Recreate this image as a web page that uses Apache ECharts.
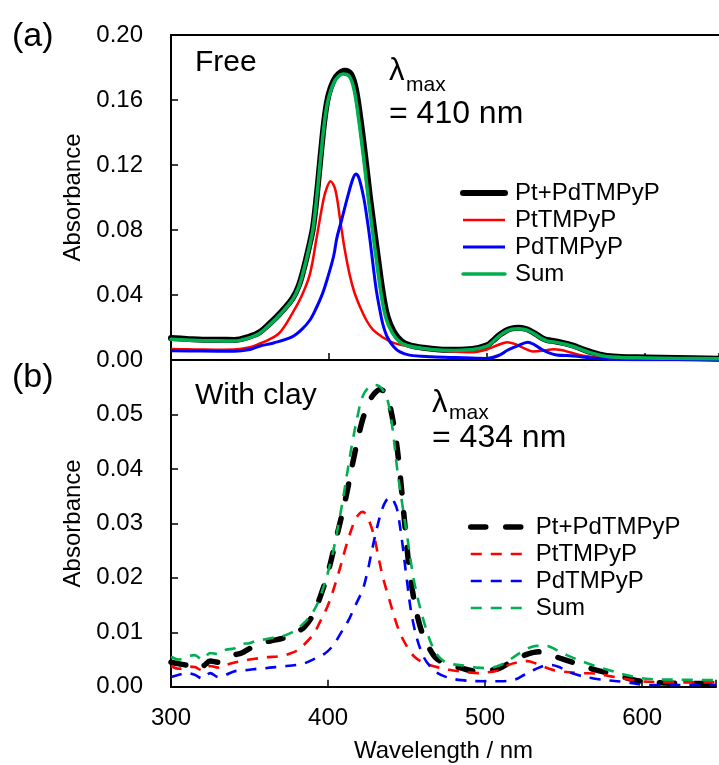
<!DOCTYPE html>
<html>
<head>
<meta charset="utf-8">
<script src="https://cdn.jsdelivr.net/npm/echarts@6/dist/echarts.min.js"></script>
<style>
html,body{margin:0;padding:0;background:#fff;}
#c{width:719px;height:765px;}
</style>
</head>
<body>
<div id="c"></div>
<script>
// ---------- Data: panel (a) Free ----------
const seriesNames = ['Pt+PdTMPyP', 'PtTMPyP', 'PdTMPyP', 'Sum'];
const xTickLabels = [300, 400, 500, 600];

const freeMixWl  = [300,310,320,330,340,350,356,362,369,377,381,384,387,390,393,396,398,400,403,406,410,414,417,420,423,426,428,431,434,437,441,446,451,460,470,480,491,500,504,508,512,516,520,524,527,531,535,538,543,548,553,557,561,566,571,576,585,601,620,647];
const freeMixAbs = [0.0135,0.0130,0.0125,0.0125,0.0123,0.0145,0.0170,0.0220,0.0287,0.0380,0.0460,0.0560,0.0680,0.0820,0.1080,0.1380,0.1540,0.1640,0.1720,0.1760,0.1780,0.1760,0.1670,0.1480,0.1250,0.1000,0.0850,0.0630,0.0420,0.0270,0.0175,0.0115,0.0092,0.0075,0.0065,0.0063,0.0068,0.0090,0.0120,0.0154,0.0180,0.0195,0.0198,0.0193,0.0182,0.0160,0.0135,0.0123,0.0115,0.0105,0.0093,0.0080,0.0065,0.0048,0.0035,0.0025,0.0019,0.0016,0.0012,0.0008];

const freeSumWl  = [300,310,320,330,340,350,356,362,369,377,381,384,387,390,393,396,398,400,403,406,409,413,416,419,422,425,427,430,433,436,440,445,450,460,470,480,491,500,504,508,512,516,520,524,527,531,535,538,543,548,553,557,561,566,571,576,585,601,620,647];
const freeSumAbs = [0.0128,0.0123,0.0118,0.0118,0.0117,0.0138,0.0163,0.0213,0.0280,0.0372,0.0452,0.0552,0.0672,0.0812,0.1070,0.1365,0.1525,0.1620,0.1705,0.1745,0.1760,0.1745,0.1660,0.1470,0.1240,0.0990,0.0840,0.0620,0.0410,0.0262,0.0168,0.0110,0.0088,0.0071,0.0061,0.0059,0.0064,0.0085,0.0115,0.0149,0.0175,0.0190,0.0193,0.0188,0.0177,0.0155,0.0130,0.0118,0.0110,0.0100,0.0088,0.0075,0.0060,0.0044,0.0031,0.0021,0.0016,0.0013,0.0010,0.0007];

const freePtWl  = [300,310,320,330,340,350,356,362,369,377,383,388,392,396,398,401,404,407,410,413,416,420,424,428,434,441,450,462,475,490,500,507,513,518,523,529,536,542,547,553,561,576,600,647];
const freePtAbs = [0.0068,0.0066,0.0064,0.0063,0.0064,0.0078,0.0100,0.0125,0.0170,0.0290,0.0400,0.0530,0.0740,0.0960,0.1040,0.1100,0.1050,0.0870,0.0680,0.0530,0.0420,0.0320,0.0240,0.0185,0.0140,0.0105,0.0085,0.0068,0.0055,0.0047,0.0065,0.0092,0.0110,0.0098,0.0075,0.0053,0.0058,0.0066,0.0061,0.0046,0.0026,0.0012,0.0009,0.0008];

const freePdWl  = [300,320,340,350,356,365,377,383,388,392,396,399,403,405,408,412,415,417,419,422,424,426,428,430,432,434,437,441,445,451,465,480,500,508,513,519,526,530,534,539,544,555,565,576,600,647];
const freePdAbs = [0.0057,0.0055,0.0054,0.0065,0.0085,0.0105,0.0144,0.0190,0.0246,0.0320,0.0410,0.0500,0.0640,0.0750,0.0860,0.1010,0.1110,0.1145,0.1120,0.1000,0.0880,0.0740,0.0580,0.0430,0.0320,0.0226,0.0140,0.0082,0.0050,0.0030,0.0020,0.0015,0.0010,0.0030,0.0060,0.0085,0.0110,0.0095,0.0070,0.0045,0.0031,0.0025,0.0014,0.0005,0.0002,0.0002];

// ---------- Data: panel (b) With clay ----------
const clayMixWl  = [300,305,310,315,320,325,330,335,340,345,350,355,360,365,370,375,380,385,390,395,400,405,411,417,421,424,427,430,433,436,439,443,446,449,452,456,460,464,469,477,485,493,500,505,510,515,519,523,527,531,535,540,550,561,569,580,588,597,614,630,647];
const clayMixAbs = [0.0045,0.0042,0.0040,0.0045,0.0038,0.0047,0.0045,0.0052,0.0058,0.0062,0.0070,0.0077,0.0082,0.0085,0.0088,0.0092,0.0100,0.0110,0.0130,0.0165,0.0210,0.0270,0.0343,0.0429,0.0480,0.0508,0.0528,0.0540,0.0546,0.0541,0.0520,0.0459,0.0386,0.0294,0.0210,0.0141,0.0098,0.0073,0.0052,0.0040,0.0034,0.0029,0.0029,0.0031,0.0035,0.0043,0.0049,0.0055,0.0060,0.0063,0.0064,0.0060,0.0050,0.0040,0.0032,0.0024,0.0018,0.0011,0.0007,0.0006,0.0006];

const claySumWl  = [300,305,310,315,320,325,330,335,340,345,350,355,360,365,370,375,380,385,390,395,402,408,415,419,422,426,430,434,438,441,444,447,451,455,462,468,474,480,489,495,502,508,514,520,527,533,539,545,552,565,578,592,605,620,647];
const claySumAbs = [0.0055,0.0050,0.0055,0.0058,0.0050,0.0062,0.0060,0.0068,0.0070,0.0078,0.0080,0.0085,0.0087,0.0090,0.0092,0.0097,0.0105,0.0118,0.0135,0.0165,0.0233,0.0320,0.0441,0.0500,0.0533,0.0550,0.0554,0.0548,0.0525,0.0475,0.0400,0.0340,0.0264,0.0190,0.0110,0.0065,0.0046,0.0041,0.0038,0.0035,0.0034,0.0038,0.0046,0.0058,0.0070,0.0075,0.0075,0.0068,0.0058,0.0043,0.0031,0.0020,0.0014,0.0013,0.0012];

const clayPtWl  = [300,305,310,315,320,325,330,335,340,345,350,355,360,370,375,380,385,391,395,400,406,412,417,420,422,425,429,432,435,439,445,450,455,461,468,477,485,496,503,510,515,521,527,532,540,546,561,571,580,588,599,620,647];
const clayPtAbs = [0.0038,0.0033,0.0037,0.0036,0.0030,0.0038,0.0035,0.0040,0.0044,0.0047,0.0050,0.0052,0.0054,0.0056,0.0060,0.0066,0.0078,0.0098,0.0120,0.0150,0.0202,0.0263,0.0305,0.0318,0.0321,0.0312,0.0280,0.0239,0.0200,0.0160,0.0104,0.0075,0.0055,0.0044,0.0037,0.0031,0.0028,0.0025,0.0027,0.0031,0.0040,0.0045,0.0047,0.0043,0.0034,0.0029,0.0025,0.0024,0.0019,0.0015,0.0010,0.0008,0.0008];

const clayPdWl  = [300,305,310,315,320,325,330,335,340,345,350,355,360,370,380,385,392,398,403,408,413,417,422,425,428,431,434,437,440,442,444,447,450,454,460,467,475,485,500,510,519,525,532,538,542,548,555,569,588,605,647];
const clayPdAbs = [0.0018,0.0022,0.0025,0.0022,0.0015,0.0025,0.0018,0.0022,0.0028,0.0030,0.0031,0.0033,0.0034,0.0037,0.0040,0.0043,0.0052,0.0061,0.0075,0.0098,0.0122,0.0147,0.0178,0.0210,0.0251,0.0290,0.0322,0.0342,0.0348,0.0340,0.0325,0.0270,0.0200,0.0120,0.0060,0.0031,0.0018,0.0012,0.0010,0.0010,0.0013,0.0022,0.0032,0.0039,0.0040,0.0035,0.0025,0.0015,0.0009,0.0003,0.0003];

// ---------- Build chart ----------
const FONT = '"Liberation Sans", Arial, sans-serif';
const zip = (xs, ys) => xs.map((x, i) => [x, ys[i]]);
const X_MIN = 300, X_MAX = 647;

const chart = echarts.init(document.getElementById('c'), null, {renderer: 'canvas'});

function xAxisBase(gridIndex, showLabels) {
  return {
    type: 'value', gridIndex: gridIndex, min: X_MIN, max: X_MAX, interval: 100,
    axisLine: {show: true, onZero: false, lineStyle: {color: '#000', width: 2}},
    axisTick: {show: true, inside: true, length: 7, lineStyle: {color: '#000', width: 1.5}},
    axisLabel: {show: showLabels, color: '#000', fontFamily: FONT, fontSize: 24, margin: 20,
      formatter: v => (xTickLabels.indexOf(Math.round(v)) >= 0 && Math.abs(v - Math.round(v)) < 1e-6) ? String(Math.round(v)) : ''},
    splitLine: {show: false}
  };
}

const xa = xAxisBase(0, false);
const xb = xAxisBase(1, true);
xb.name = 'Wavelength / nm';
xb.nameLocation = 'middle';
xb.nameGap = 53;
xb.nameTextStyle = {color: '#000', fontFamily: FONT, fontSize: 24};
const xaTop = {
  type: 'value', gridIndex: 0, min: X_MIN, max: X_MAX, position: 'top',
  axisLine: {show: true, onZero: false, lineStyle: {color: '#000', width: 2}},
  axisTick: {show: false}, axisLabel: {show: false}, splitLine: {show: false}
};

function yAxisBase(gridIndex, max, interval) {
  return {
    type: 'value', gridIndex: gridIndex, min: 0, max: max, interval: interval,
    name: 'Absorbance', nameLocation: 'middle', nameGap: 83, nameRotate: 90,
    nameTextStyle: {color: '#000', fontFamily: FONT, fontSize: 24},
    axisLine: {show: true, onZero: false, lineStyle: {color: '#000', width: 2}},
    axisTick: {show: true, inside: true, length: 7, lineStyle: {color: '#000', width: 1.5}},
    axisLabel: {color: '#000', fontFamily: FONT, fontSize: 24, margin: 28,
      formatter: v => v.toFixed(2)},
    splitLine: {show: false}
  };
}
const ya = yAxisBase(0, 0.20, 0.04);
const yb = yAxisBase(1, 0.06, 0.01);
yb.axisLabel.showMaxLabel = false;

function line(name, xIdx, yIdx, xs, ys, color, width, dash, cap) {
  return {
    type: 'line', name: name, xAxisIndex: xIdx, yAxisIndex: yIdx,
    data: zip(xs, ys), symbol: 'none', smooth: 0.35, animation: false,
    lineStyle: {color: color, width: width, type: dash || 'solid', cap: cap || 'butt', join: 'round'},
    itemStyle: {color: color}
  };
}

const BLACK = '#000000', RED = '#ff0000', BLUE = '#0000ff', GREEN = '#00b050';
const sp = ' '; // panel (b) series get a trailing space so legends stay separate

const series = [
  line(seriesNames[0], 0, 0, freeMixWl, freeMixAbs, BLACK, 6, 'solid', 'round'),
  line(seriesNames[1], 0, 0, freePtWl, freePtAbs, RED, 2.5),
  line(seriesNames[2], 0, 0, freePdWl, freePdAbs, BLUE, 3),
  line(seriesNames[3], 0, 0, freeSumWl, freeSumAbs, GREEN, 3.5, 'solid', 'round'),
  line(seriesNames[0] + sp, 2, 1, clayMixWl, clayMixAbs, BLACK, 5.5, [15, 20], 'round'),
  line(seriesNames[1] + sp, 2, 1, clayPtWl, clayPtAbs, RED, 2.6, [11, 9]),
  line(seriesNames[2] + sp, 2, 1, clayPdWl, clayPdAbs, BLUE, 2.6, [11, 9]),
  line(seriesNames[3] + sp, 2, 1, claySumWl, claySumAbs, GREEN, 2.6, [11, 9])
];

function legend(left, top, names, itemWidth) {
  return {
    orient: 'vertical', left: left, top: top, padding: 0,
    itemWidth: itemWidth, itemHeight: 14, itemGap: 3, selectedMode: false,
    itemStyle: {opacity: 0, borderWidth: 0},
    lineStyle: {width: 'inherit', type: 'inherit', cap: 'inherit', color: 'inherit'},
    textStyle: {color: '#000', fontFamily: FONT, fontSize: 24, lineHeight: 24, padding: [0, 0, 0, 5]},
    formatter: n => n.trim(),
    data: names
  };
}

const T = (text, x, y, size) => ({
  type: 'text', x: x, y: y,
  style: {text: text, fill: '#000', font: size + 'px ' + FONT, textAlign: 'left', textVerticalAlign: 'middle', verticalAlign: 'middle'}
});

chart.setOption({
  backgroundColor: '#fff',
  animation: false,
  grid: [
    {left: 171, right: 0, top: 35, height: 325, containLabel: false},
    {left: 171, right: 0, top: 360, height: 326.7, containLabel: false}
  ],
  xAxis: [xa, xaTop, xb],
  yAxis: [ya, yb],
  legend: [
    legend(460, 181, seriesNames, 42),
    legend(468, 515, seriesNames.map(n => n + sp), 55)
  ],
  graphic: [
    T('(a)', 12, 37, 34),
    T('(b)', 12, 378, 34),
    T('Free', 195, 63, 30),
    T('With clay', 195, 396, 30),
    T('λ', 389, 71, 31),
    T('max', 406, 85, 21),
    T('= 410 nm', 389, 114, 32),
    T('λ', 432, 403, 31),
    T('max', 449, 413, 21),
    T('= 434 nm', 432, 438, 32)
  ],
  series: series
});
</script>
</body>
</html>
